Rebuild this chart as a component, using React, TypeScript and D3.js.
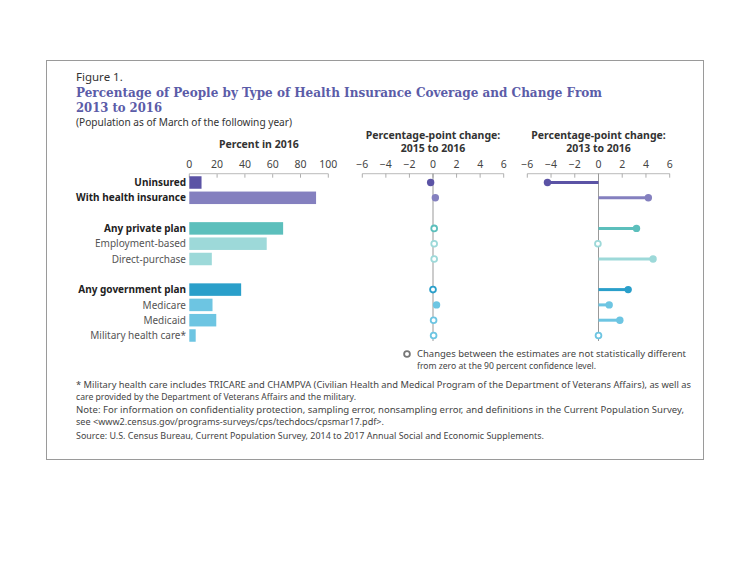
import React from "react";
import * as d3 from "d3";

const categories = [
  "Uninsured",
  "With health insurance",
  "Any private plan",
  "Employment-based",
  "Direct-purchase",
  "Any government plan",
  "Medicare",
  "Medicaid",
  "Military health care*",
];
const groups = [0, 0, 1, 1, 1, 2, 2, 2, 2];
const boldLabels = [true, true, true, false, false, true, false, false, false];
const percent2016 = [8.8, 91.2, 67.5, 55.7, 16.2, 37.3, 16.7, 19.4, 4.6];
const change1516 = [-0.2, 0.2, 0.1, 0.1, 0.1, 0.0, 0.3, 0.05, 0.05];
const sig1516 = [true, true, false, false, false, false, true, false, false];
const change1316 = [-4.3, 4.2, 3.2, -0.05, 4.6, 2.5, 0.9, 1.8, 0.0];
const sig1316 = [true, true, true, false, true, true, true, true, false];
const colors = ["#5b53a5", "#8480bf", "#5cbfbc", "#9dd9d9", "#9dd9d9", "#2a9fca", "#6dc5e2", "#6dc5e2", "#6dc5e2"];
const barTicks = [0, 20, 40, 60, 80, 100];
const changeTicks = [-6, -4, -2, 0, 2, 4, 6];

const footnotes = [
  "* Military health care includes TRICARE and CHAMPVA (Civilian Health and Medical Program of the Department of Veterans Affairs), as well as",
  "care provided by the Department of Veterans Affairs and the military.",
  "Note: For information on confidentiality protection, sampling error, nonsampling error, and definitions in the Current Population Survey,",
  "see <www2.census.gov/programs-surveys/cps/techdocs/cpsmar17.pdf>.",
  "Source: U.S. Census Bureau, Current Population Survey, 2014 to 2017 Annual Social and Economic Supplements.",
];

const SANS = "'Noto Sans', 'Open Sans', sans-serif";

// Row domain with spacer rows between groups
const rowDomain: string[] = [];
categories.forEach((c, i) => {
  if (i > 0 && groups[i] !== groups[i - 1]) rowDomain.push("gap" + groups[i]);
  rowDomain.push(c);
});

export default function App() {
  const y = d3.scalePoint<string>().domain(rowDomain).range([182.5, 335.5]);
  const xBar = d3.scaleLinear().domain([0, 100]).range([189.3, 328.3]);
  const xMid = d3.scaleLinear().domain([-6, 6]).range([362.3, 503.7]);
  const xRight = d3.scaleLinear().domain([-6, 6]).range([527.3, 669.7]);
  const axisY = 173.7;
  const barH = 12.5;
  const r = 3.3;

  const changeAxis = (x: d3.ScaleLinear<number, number>, title1: string, title2: string, vals: number[], sigs: boolean[], lines: boolean) => {
    const x0 = x(0);
    return (
      <g>
        <text x={x0} y={139} textAnchor="middle" fontFamily={SANS} fontWeight="bold" fontSize={10.5} fill="#333">{title1}</text>
        <text x={x0} y={152} textAnchor="middle" fontFamily={SANS} fontWeight="bold" fontSize={10.5} fill="#333">{title2}</text>
        <line x1={x.range()[0]} x2={x.range()[1]} y1={axisY} y2={axisY} stroke="#c8c8c8" strokeWidth={1.3} />
        {changeTicks.map((t) => (
          <g key={t}>
            <line x1={x(t)} x2={x(t)} y1={axisY} y2={axisY + 4} stroke="#999" strokeWidth={0.8} />
            <text x={x(t)} y={168} textAnchor="middle" fontFamily={SANS} fontSize={10.5} fill="#444">
              {t < 0 ? "\u2212" + Math.abs(t) : String(t)}
            </text>
          </g>
        ))}
        <line x1={x0} x2={x0} y1={axisY} y2={341} stroke="#999" strokeWidth={1} />
        {categories.map((c, i) => {
          const cy = y(c)!;
          return (
            <g key={c}>
              {lines && sigs[i] && (
                <line x1={x0} x2={x(vals[i])} y1={cy} y2={cy} stroke={colors[i]} strokeWidth={3} />
              )}
              {sigs[i] ? (
                <circle cx={x(vals[i])} cy={cy} r={r + 0.4} fill={colors[i]} />
              ) : (
                <circle cx={x(vals[i])} cy={cy} r={r - 0.4} fill="#fff" stroke={colors[i]} strokeWidth={1.8} />
              )}
            </g>
          );
        })}
      </g>
    );
  };

  const footY = [388, 399.5, 413, 424.5, 439];
  const footW = [615, 280, 608, 308, 468];

  return (
    <svg width={750} height={583} style={{ position: "absolute", left: 0, top: 0 }}>
      <rect x={0} y={0} width={750} height={583} fill="#fff" />
      <rect x={46.5} y={60.5} width={657} height={399} fill="none" stroke="#9a9a9a" strokeWidth={1} />
      <text x={76} y={81} fontFamily={SANS} fontSize={11.5} fill="#333">Figure 1.</text>
      <text x={76} y={97} fontFamily="'DejaVu Serif', serif" fontWeight="bold" fontSize={13.5} fill="#5b5ca8" textLength={526} lengthAdjust="spacingAndGlyphs">
        Percentage of People by Type of Health Insurance Coverage and Change From
      </text>
      <text x={76} y={112} fontFamily="'DejaVu Serif', serif" fontWeight="bold" fontSize={13.5} fill="#5b5ca8" textLength={86} lengthAdjust="spacingAndGlyphs">
        2013 to 2016
      </text>
      <text x={76} y={126} fontFamily={SANS} fontSize={10} fill="#333" textLength={216} lengthAdjust="spacingAndGlyphs">
        (Population as of March of the following year)
      </text>

      {/* Bar panel */}
      <text x={(xBar(0) + xBar(100)) / 2} y={148} textAnchor="middle" fontFamily={SANS} fontWeight="bold" fontSize={10.5} fill="#333">Percent in 2016</text>
      {barTicks.map((t) => (
        <g key={t}>
          <text x={xBar(t)} y={168} textAnchor="middle" fontFamily={SANS} fontSize={10.5} fill="#444">{t}</text>
          <line x1={xBar(t)} x2={xBar(t)} y1={axisY} y2={axisY + 4} stroke="#999" strokeWidth={0.8} />
        </g>
      ))}
      <line x1={xBar(0)} x2={xBar(100)} y1={axisY} y2={axisY} stroke="#c8c8c8" strokeWidth={1.3} />
      {categories.map((c, i) => {
        const cy = y(c)!;
        return (
          <g key={c}>
            <rect x={xBar(0)} y={cy - barH / 2} width={xBar(percent2016[i]) - xBar(0)} height={barH} fill={colors[i]} />
            <text x={186} y={cy + 3.6} textAnchor="end" fontFamily={SANS} fontSize={10} fontWeight={boldLabels[i] ? "bold" : "normal"} fill={boldLabels[i] ? "#222" : "#555"}>
              {c}
            </text>
          </g>
        );
      })}

      {changeAxis(xMid, "Percentage-point change:", "2015 to 2016", change1516, sig1516, false)}
      {changeAxis(xRight, "Percentage-point change:", "2013 to 2016", change1316, sig1316, true)}

      {/* Legend */}
      <circle cx={407} cy={354} r={2.9} fill="#fff" stroke="#777" strokeWidth={1.8} />
      <text x={417} y={357} fontFamily={SANS} fontSize={8.6} fill="#444" textLength={269} lengthAdjust="spacingAndGlyphs">
        Changes between the estimates are not statistically different
      </text>
      <text x={417} y={368.5} fontFamily={SANS} fontSize={8.6} fill="#444" textLength={179} lengthAdjust="spacingAndGlyphs">
        from zero at the 90 percent confidence level.
      </text>

      {/* Footnotes */}
      {footnotes.map((f, i) => (
        <text key={i} x={76} y={footY[i]} fontFamily={SANS} fontSize={8.6} fill="#444" textLength={footW[i]} lengthAdjust="spacingAndGlyphs">
          {f}
        </text>
      ))}
    </svg>
  );
}
